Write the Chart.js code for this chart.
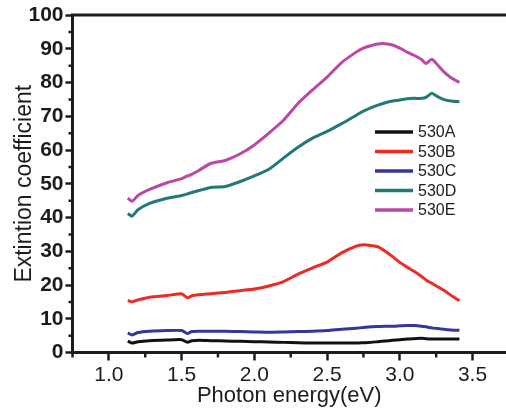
<!DOCTYPE html>
<html lang="en">
<head>
  <meta charset="UTF-8">
  <title>Extintion coefficient</title>
  <script src="https://cdn.jsdelivr.net/npm/chart.js"></script>
  <style>
    html, body { margin: 0; padding: 0; background: #fff; }
    .box { width: 506px; height: 409px; }
  </style>
</head>
<body>
  <div class="box"><canvas id="myChart" width="506" height="409"></canvas></div>

<script>
  // photon energy (eV), shared by all samples
  const energy = [1.13, 1.16, 1.2, 1.28, 1.4, 1.5, 1.54, 1.57, 1.62, 1.7, 1.8, 1.9, 2.0, 2.1, 2.2, 2.3, 2.4, 2.5,
    2.6, 2.7, 2.75, 2.8, 2.85, 2.9, 2.95, 3.0, 3.05, 3.1, 3.15, 3.18, 3.22, 3.26, 3.3, 3.35, 3.41];

  const s530A = [3.4, 2.8, 3.2, 3.5, 3.7, 3.8, 3.0, 3.5, 3.6, 3.5, 3.4, 3.3, 3.2, 3.1, 3.0, 2.9, 2.8, 2.8,
    2.8, 2.8, 2.9, 3.0, 3.2, 3.4, 3.6, 3.8, 4.0, 4.1, 4.2, 4.1, 4.0, 4.0, 4.0, 4.0, 4.0];
  const s530B = [15.4, 15.0, 15.6, 16.4, 16.9, 17.4, 16.2, 16.8, 17.1, 17.4, 17.8, 18.3, 18.8, 19.7, 21.0, 23.2, 25.1, 26.8,
    29.5, 31.5, 31.9, 31.7, 31.3, 30.0, 28.4, 26.7, 25.3, 24.0, 22.5, 21.5, 20.5, 19.5, 18.5, 17.0, 15.3];
  const s530C = [5.8, 5.2, 5.9, 6.3, 6.5, 6.5, 5.6, 6.2, 6.3, 6.3, 6.3, 6.2, 6.1, 6.0, 6.1, 6.2, 6.3, 6.5,
    6.9, 7.2, 7.4, 7.6, 7.7, 7.8, 7.8, 7.9, 8.0, 8.0, 7.8, 7.6, 7.3, 7.1, 6.9, 6.7, 6.6];
  const s530D = [41.2, 40.4, 42.3, 44.2, 45.7, 46.5, 47.0, 47.4, 48.0, 48.9, 49.2, 50.6, 52.3, 54.3, 57.6, 60.8, 63.5, 65.5,
    67.8, 70.3, 71.5, 72.5, 73.3, 74.0, 74.5, 74.8, 75.2, 75.3, 75.3, 75.6, 76.8, 75.8, 75.0, 74.5, 74.3];
  const s530E = [45.7, 44.8, 46.5, 48.3, 50.3, 51.5, 52.3, 52.8, 54.0, 56.0, 56.9, 58.8, 61.5, 65.0, 68.8, 73.8, 77.8, 81.6,
    85.9, 89.0, 90.2, 90.9, 91.4, 91.5, 91.1, 90.2, 89.0, 88.0, 86.8, 85.6, 86.9, 85.2, 83.3, 81.5, 80.0];

  const labels = ['530A', '530B', '530C', '530D', '530E'];
  const series = [s530A, s530B, s530C, s530D, s530E];
  const cores = ['#111111', '#ef2a22', '#35359b', '#227a76', '#bb47a6'];

  const fonte = '"Liberation Sans", Arial, sans-serif';
  const tinta = '#1c1c1c';

  function isMajor(v, step) {
    const r = v / step;
    return Math.abs(r - Math.round(r)) < 1e-6;
  }

  // minor ticks, top frame line and the legend
  const extras = {
    id: 'extras',
    afterDraw(chart) {
      const ctx = chart.ctx;
      const area = chart.chartArea;
      const sx = chart.scales.x;
      const sy = chart.scales.y;
      ctx.save();
      ctx.strokeStyle = tinta;
      ctx.lineWidth = 2.5;
      ctx.beginPath();
      sx.ticks.forEach(t => {
        if (!isMajor(t.value, 0.5)) {
          const px = sx.getPixelForValue(t.value);
          ctx.moveTo(px, area.bottom);
          ctx.lineTo(px, area.bottom + 5);
        }
      });
      sy.ticks.forEach(t => {
        if (!isMajor(t.value, 10)) {
          const py = sy.getPixelForValue(t.value);
          ctx.moveTo(area.left, py);
          ctx.lineTo(area.left - 4, py);
        }
      });
      ctx.stroke();

      ctx.lineWidth = 3;
      ctx.beginPath();
      ctx.moveTo(area.left - 1.5, area.top);
      ctx.lineTo(chart.width, area.top);
      ctx.stroke();

      // legend
      const lx = 375, ly = 132, gap = 19.5;
      ctx.font = '16px ' + fonte;
      ctx.textBaseline = 'middle';
      chart.data.datasets.forEach((ds, i) => {
        const y = ly + i * gap;
        ctx.strokeStyle = ds.borderColor;
        ctx.lineWidth = 3.5;
        ctx.beginPath();
        ctx.moveTo(lx, y);
        ctx.lineTo(lx + 38, y);
        ctx.stroke();
        ctx.fillStyle = tinta;
        ctx.fillText(ds.label, lx + 43, y + 1);
      });
      ctx.restore();
    }
  };

  const ctx = document.getElementById('myChart');
  new Chart(ctx, {
    type: 'line',
    data: {
      datasets: labels.map((nome, i) => ({
        label: nome,
        data: energy.map((e, k) => ({ x: e, y: series[i][k] })),
        borderColor: cores[i],
        backgroundColor: cores[i],
        borderWidth: 3,
        pointRadius: 0,
        tension: 0.2,
        fill: false
      }))
    },
    options: {
      responsive: false,
      animation: false,
      layout: { padding: { top: 15, right: 0, left: 0, bottom: 0 } },
      plugins: {
        legend: { display: false },
        tooltip: { enabled: false }
      },
      scales: {
        x: {
          type: 'linear',
          min: 0.75,
          max: 3.73,
          afterFit(scale) { scale.height = 56.5; },
          ticks: {
            stepSize: 0.25,
            includeBounds: false,
            autoSkip: false,
            maxRotation: 0,
            padding: 2,
            color: tinta,
            font: { family: fonte, size: 21 },
            callback: v => isMajor(v, 0.5) ? v.toFixed(1) : ''
          },
          grid: {
            drawOnChartArea: false,
            tickLength: 8,
            tickWidth: 2.5,
            tickColor: c => isMajor(c.tick.value, 0.5) ? tinta : 'transparent'
          },
          border: { color: tinta, width: 3 },
          title: {
            display: true,
            text: 'Photon energy(eV)',
            color: tinta,
            font: { family: fonte, size: 22 },
            padding: { top: 0, bottom: 0 }
          }
        },
        y: {
          min: 0,
          max: 100,
          afterFit(scale) { scale.width = 72.5; },
          ticks: {
            stepSize: 5,
            autoSkip: false,
            padding: 2,
            color: tinta,
            font: { family: fonte, size: 21, weight: 'bold' },
            callback: v => isMajor(v, 10) ? String(v) : ''
          },
          grid: {
            drawOnChartArea: false,
            tickLength: 7,
            tickWidth: 2.5,
            tickColor: c => isMajor(c.tick.value, 10) ? tinta : 'transparent'
          },
          border: { color: tinta, width: 3 },
          title: {
            display: true,
            text: 'Extintion coefficient',
            color: tinta,
            font: { family: fonte, size: 23 },
            padding: { top: 11, bottom: 0 }
          }
        }
      }
    },
    plugins: [extras]
  });
</script>
</body>
</html>
